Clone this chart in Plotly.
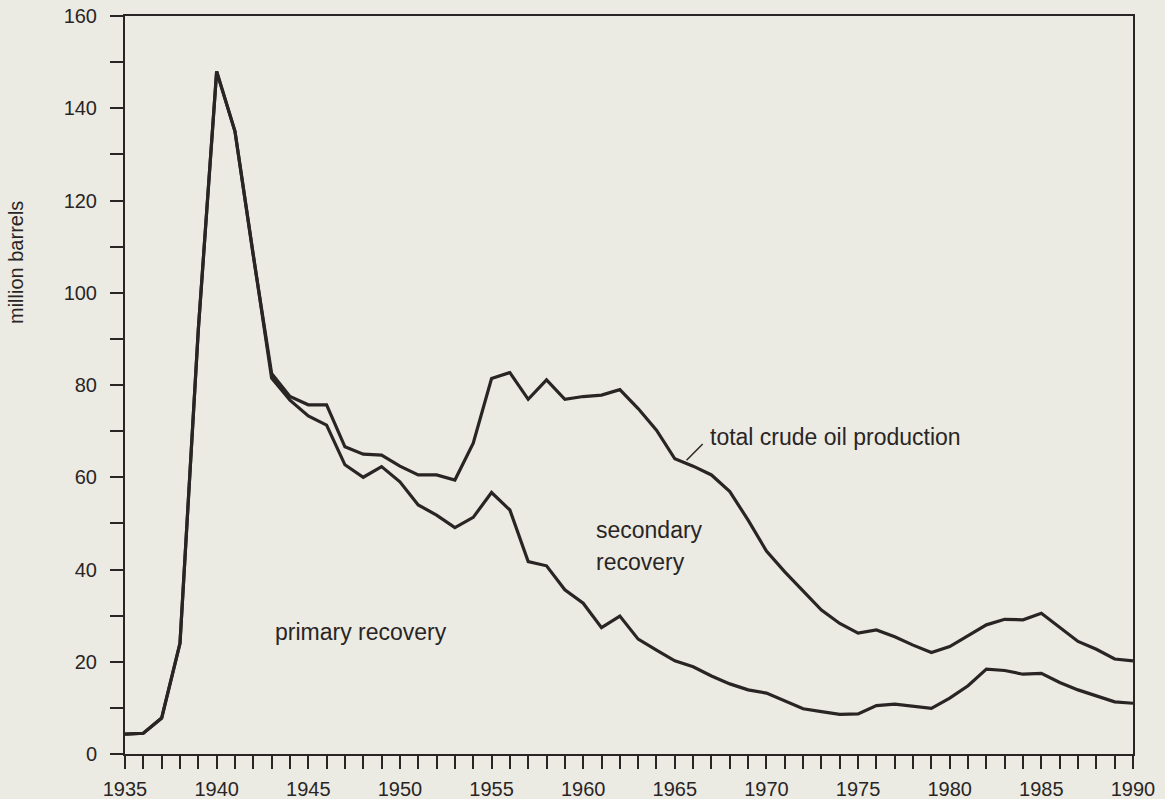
import plotly.graph_objects as go

years = list(range(1935, 1991))

total_production = [
    4.3, 4.5, 7.8, 24.0, 92.0, 148.0, 135.0, 108.0, 82.5, 77.5,
    75.7, 75.7, 66.6, 65.0, 64.8, 62.4, 60.5, 60.5, 59.4, 67.4,
    81.4, 82.7, 76.9, 81.1, 76.9, 77.5, 77.8, 79.0, 74.9, 70.2,
    64.0, 62.4, 60.5, 56.9, 50.7, 44.0, 39.5, 35.3, 31.2, 28.3,
    26.2, 26.9, 25.4, 23.6, 22.0, 23.3, 25.7, 28.0, 29.2, 29.1,
    30.5, 27.4, 24.4, 22.7, 20.6, 20.2,
]

primary_recovery = [
    4.3, 4.5, 7.8, 24.0, 92.0, 148.0, 135.0, 108.0, 81.5, 76.7,
    73.3, 71.3, 62.7, 60.0, 62.3, 59.0, 54.0, 51.8, 49.1, 51.3,
    56.7, 52.9, 41.7, 40.8, 35.6, 32.7, 27.4, 29.9, 24.9, 22.5,
    20.2, 18.9, 16.9, 15.2, 13.9, 13.2, 11.5, 9.8, 9.2, 8.6,
    8.7, 10.5, 10.8, 10.4, 9.9, 12.1, 14.8, 18.4, 18.1, 17.3,
    17.5, 15.5, 13.9, 12.6, 11.3, 11.0,
]

x_tick_vals = [1935, 1940, 1945, 1950, 1955, 1960, 1965, 1970, 1975, 1980, 1985, 1990]
y_tick_vals = [0, 20, 40, 60, 80, 100, 120, 140, 160]

INK = "#2a2525"
BG = "#ebebe3"
FONT = "Liberation Sans, Arial, Helvetica, sans-serif"

fig = go.Figure()
fig.add_trace(go.Scatter(x=years, y=total_production, mode="lines",
                         line=dict(color=INK, width=3.2), name="total crude oil production",
                         showlegend=False))
fig.add_trace(go.Scatter(x=years, y=primary_recovery, mode="lines",
                         line=dict(color=INK, width=3.2), name="primary recovery",
                         showlegend=False))

# leader line for total production label
fig.add_shape(type="line", x0=1965.64, y0=63.7, x1=1966.52, y1=67.2,
              line=dict(color=INK, width=1.5))

ann_font = dict(family=FONT, size=23, color=INK)
fig.add_annotation(x=1966.8, y=68.7, text="total crude oil production", showarrow=False,
                   xanchor="left", yanchor="middle", font=ann_font)
fig.add_annotation(x=1960.6, y=48.6, text="secondary", showarrow=False,
                   xanchor="left", yanchor="middle", font=ann_font)
fig.add_annotation(x=1960.6, y=41.6, text="recovery", showarrow=False,
                   xanchor="left", yanchor="middle", font=ann_font)
fig.add_annotation(x=1943.05, y=26.5, text="primary recovery", showarrow=False,
                   xanchor="left", yanchor="middle", font=ann_font)

# y-axis title (placed as in the reference, above centre)
fig.add_annotation(xref="paper", yref="paper", x=(16 - 125) / 1008, y=(754 - 263) / 738,
                   text="million barrels", textangle=-90, showarrow=False,
                   xanchor="center", yanchor="middle",
                   font=dict(family=FONT, size=20, color=INK))

fig.update_layout(
    width=1165, height=799,
    margin=dict(l=125, r=32, t=16, b=45),
    paper_bgcolor=BG, plot_bgcolor=BG,
    font=dict(family=FONT, size=20, color=INK),
    showlegend=False,
)

fig.update_xaxes(
    range=[1935, 1990], tickmode="array", tickvals=x_tick_vals,
    ticktext=[str(v) for v in x_tick_vals],
    showgrid=False, zeroline=False, automargin=False,
    showline=True, linecolor=INK, linewidth=2, mirror=True,
    ticks="outside", ticklen=13, tickwidth=1.5, tickcolor=INK,
    minor=dict(dtick=1, ticks="outside", ticklen=13, tickwidth=1.5, tickcolor=INK, showgrid=False),
    tickfont=dict(size=20, color=INK), ticklabelstandoff=3,
)
fig.update_yaxes(
    range=[0, 160], tickmode="array", tickvals=y_tick_vals,
    ticktext=[str(v) for v in y_tick_vals],
    showgrid=False, zeroline=False, automargin=False,
    showline=True, linecolor=INK, linewidth=2, mirror=True,
    ticks="outside", ticklen=13, tickwidth=1.5, tickcolor=INK,
    minor=dict(dtick=10, ticks="outside", ticklen=13, tickwidth=1.5, tickcolor=INK, showgrid=False),
    tickfont=dict(size=20, color=INK), ticklabelstandoff=9,
)

fig.write_html("out.html", config={"displayModeBar": False},
               post_script="document.body.style.margin='0';document.body.style.background='%s';" % BG)
